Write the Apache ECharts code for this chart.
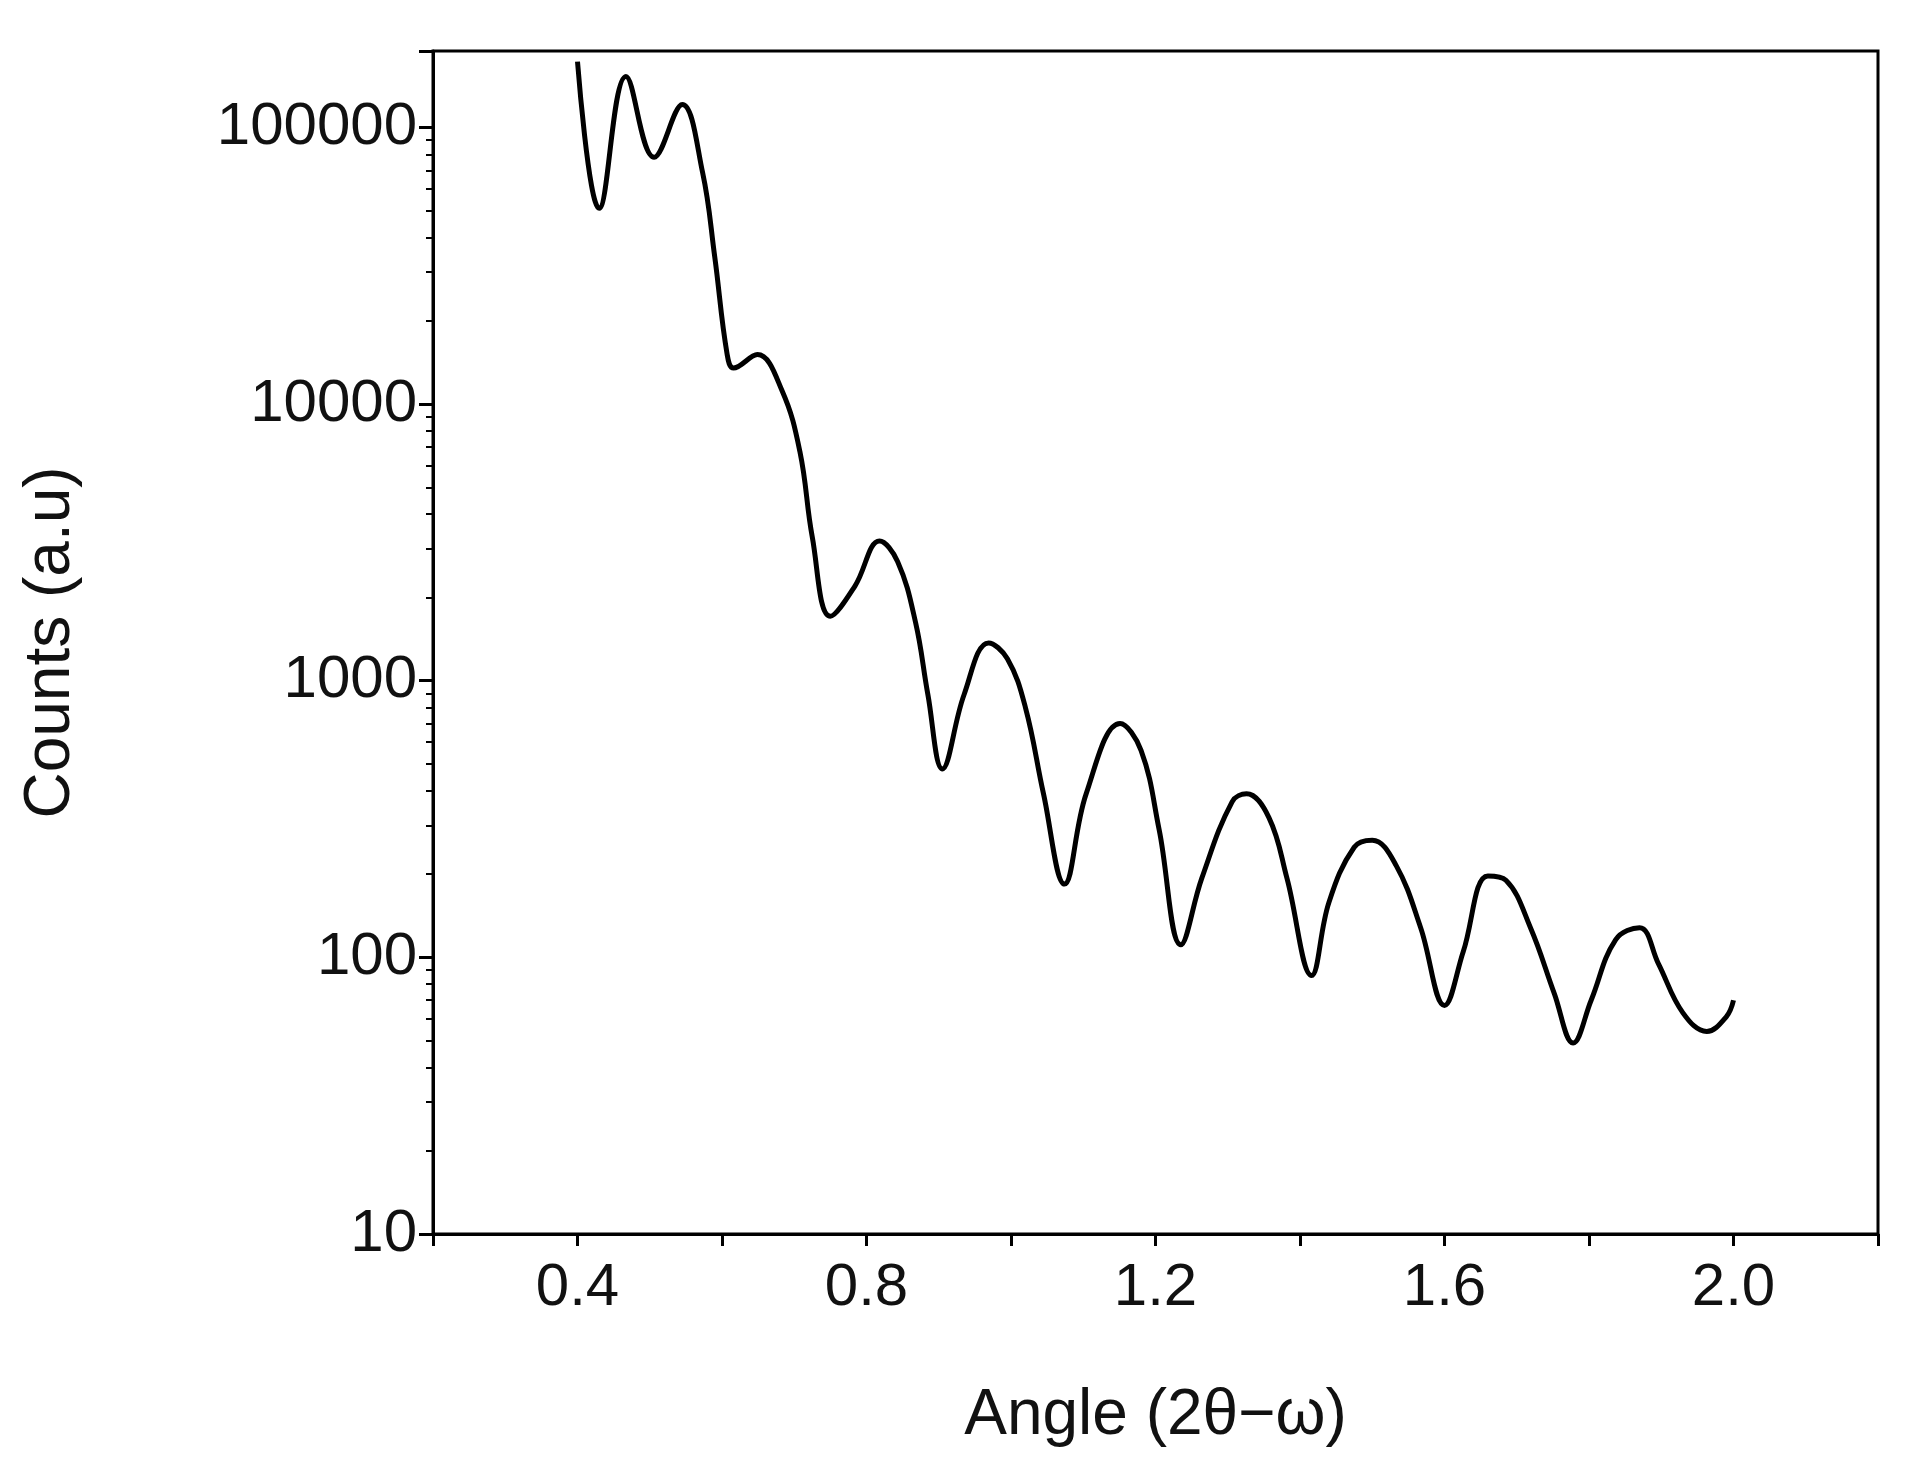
<!DOCTYPE html>
<html><head><meta charset="utf-8">
<script src="https://cdn.jsdelivr.net/npm/echarts@6/dist/echarts.min.js"></script>
<style>html,body{margin:0;background:#fff}#c{width:1906px;height:1462px}</style>
</head><body><div id="c"></div>
<script>
const angle = [0.4,0.43,0.467,0.506,0.545,0.573,0.59,0.607,0.616,0.649,0.683,0.708,0.725,0.75,0.784,0.818,0.843,0.868,0.885,0.905,0.935,0.969,0.995,1.02,1.045,1.074,1.104,1.151,1.18,1.205,1.235,1.264,1.306,1.326,1.357,1.382,1.416,1.44,1.475,1.5,1.533,1.567,1.6,1.626,1.66,1.685,1.719,1.752,1.778,1.803,1.837,1.87,1.896,1.93,1.963,1.99,2.0];
const counts = [173000,51000,153000,78000,121000,69000,34000,15200,13500,15100,11200,6700,3300,1710,2200,3200,2700,1620,890,480,890,1370,1200,800,390,184,390,700,560,290,111,193,365,390,320,193,86,158,250,265,215,128,67,105,197,190,128,74,49,70,116,128,95,63,54,61,70];
const xTickLabels = ['0.4','0.8','1.2','1.6','2.0'];
const yTickLabels = ['10','100','1000','10000','100000'];
const font = 'Liberation Sans, Arial, sans-serif';
const chart = echarts.init(document.getElementById('c'));
chart.setOption({
  animation:false,
  grid:{left:433,top:51,width:1445,height:1183,show:true,borderColor:'#000',borderWidth:3,backgroundColor:'transparent'},
  xAxis:{type:'value',min:0.2,max:2.2,interval:0.2,
    name:'Angle (2\u03b8\u2212\u03c9)',nameLocation:'middle',nameGap:150,
    nameTextStyle:{fontFamily:font,fontSize:64,color:'#111'},
    axisLine:{lineStyle:{color:'#000',width:3}},
    axisTick:{length:12,lineStyle:{width:3,color:'#000'}},
    splitLine:{show:false},
    axisLabel:{fontFamily:font,fontSize:60,color:'#111',margin:24,
      formatter:v=>{const s=v.toFixed(1);return xTickLabels.includes(s)?s:'';}}},
  yAxis:{type:'log',logBase:10,min:10,max:189000,interval:1,
    name:'Counts (a.u)',nameLocation:'middle',nameGap:350,
    nameTextStyle:{fontFamily:font,fontSize:64,color:'#111'},
    axisLine:{lineStyle:{color:'#000',width:3}},
    axisTick:{length:14,lineStyle:{width:3,color:'#000'}},
    minorTick:{show:true,splitNumber:9,length:7,lineStyle:{color:'#000',width:2}},
    splitLine:{show:false},
    axisLabel:{fontFamily:font,fontSize:60,color:'#111',margin:16,
      formatter:v=>{const s=String(Math.round(v));return yTickLabels.includes(s)?s:'';}}},
  series:[{type:'line',data:angle.map((a,i)=>[a,counts[i]]),smooth:0.4,symbol:'none',
    lineStyle:{color:'#000',width:5}}]
});
</script></body></html>
